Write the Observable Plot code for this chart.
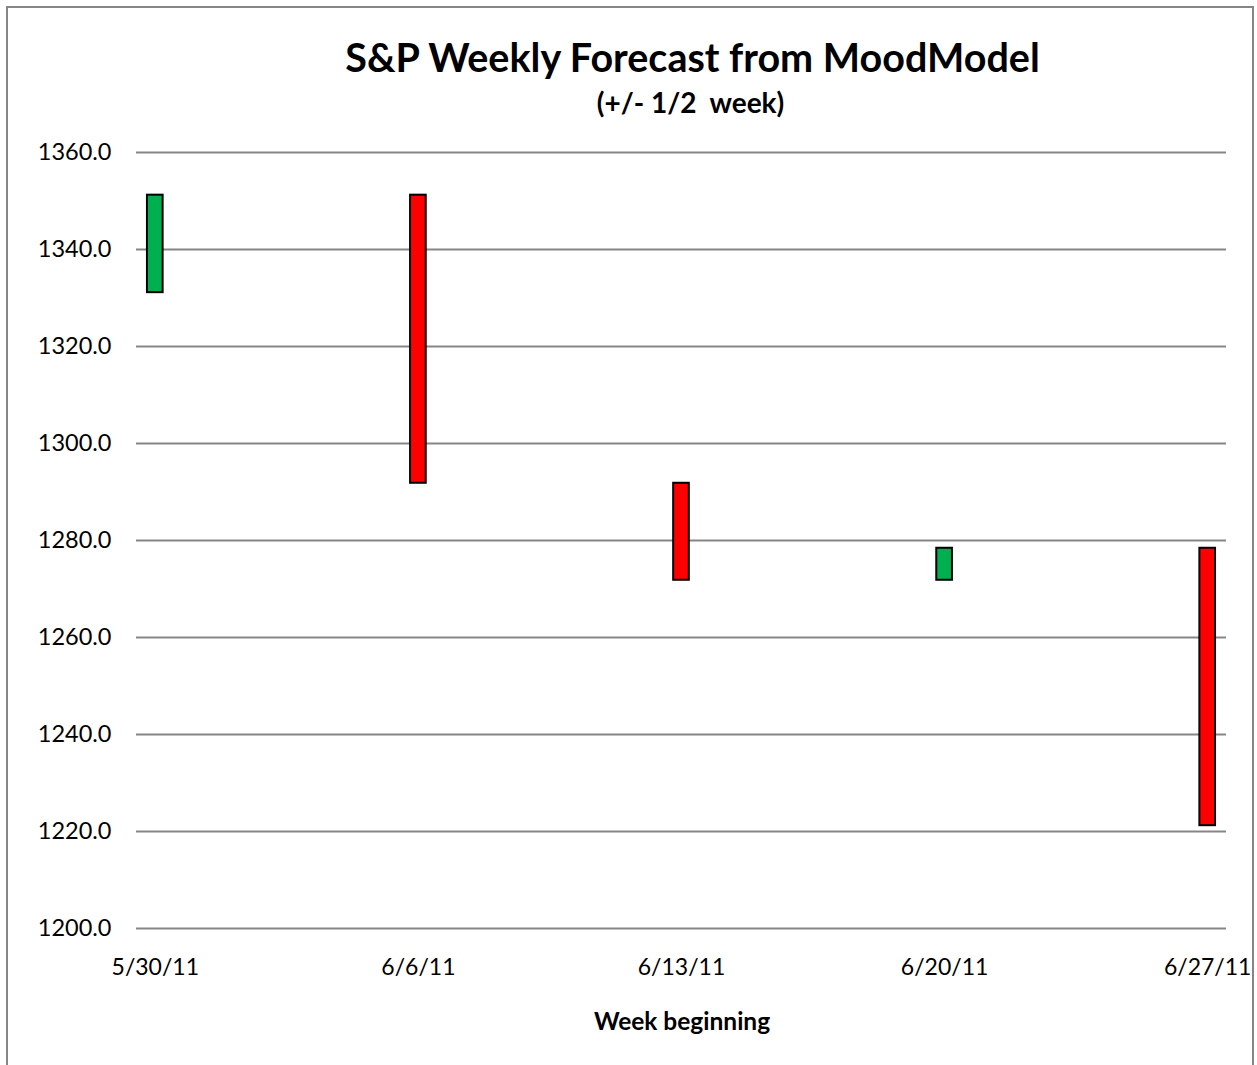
<!DOCTYPE html>
<html>
<head>
<meta charset="utf-8">
<script src="https://cdn.jsdelivr.net/npm/d3@7"></script>
<script src="https://cdn.jsdelivr.net/npm/@observablehq/plot@0.6"></script>
<style>
  html, body { margin: 0; padding: 0; background: #fff; }
  body { width: 1257px; height: 1065px; position: relative; overflow: hidden; font-family: Lato, "Open Sans", sans-serif; }
  #frame { position: absolute; left: 6px; top: 6px; width: 1248px; height: 1100px; border: 2px solid #868686; box-sizing: border-box; }
  #title { position: absolute; left: 0; width: 1385px; top: 33px; text-align: center; font-size: 39.5px; font-weight: bold; color: #000; white-space: nowrap; }
  #subtitle { position: absolute; left: 0; width: 1381px; top: 85px; text-align: center; font-size: 28px; font-weight: bold; color: #000; white-space: pre; }
  #xlabel { position: absolute; left: 0; width: 1364px; top: 1006px; text-align: center; font-size: 24.5px; font-weight: bold; color: #000; }
  #chart { position: absolute; left: 0; top: 0; }
</style>
</head>
<body>
<div id="frame"></div>
<div id="chart"></div>
<div id="title">S&amp;P Weekly Forecast from MoodModel</div>
<div id="subtitle">(+/- 1/2  week)</div>
<div id="xlabel">Week beginning</div>
<script>
const weeks = ["2011-05-30", "2011-06-06", "2011-06-13", "2011-06-20", "2011-06-27"];
const weekLabels = ["5/30/11", "6/6/11", "6/13/11", "6/20/11", "6/27/11"];
const lows  = [1331.1, 1291.8, 1271.8, 1271.8, 1221.2];
const highs = [1351.2, 1351.2, 1291.8, 1278.4, 1278.4];
const direction = ["up", "down", "down", "up", "down"];
const yTicks = [1200, 1220, 1240, 1260, 1280, 1300, 1320, 1340, 1360];

const data = weeks.map((w, i) => ({
  date: new Date(w + "T00:00:00Z"),
  low: lows[i], high: highs[i], dir: direction[i]
}));
const dates = data.map(d => d.date);
const fmtWeek = (d) => weekLabels[dates.findIndex(x => +x === +d)];

const chart = Plot.plot({
  width: 1257,
  height: 1065,
  marginTop: 152,
  marginBottom: 137,
  marginLeft: 136,
  marginRight: 31,
  style: { fontFamily: "Lato, 'Open Sans', sans-serif", fontSize: "23px", color: "#000", background: "transparent" },
  x: {
    type: "utc",
    domain: [d3.utcHour.offset(dates[0], -12), d3.utcHour.offset(dates[4], 12)],
    ticks: dates,
    tickFormat: fmtWeek,
    label: null
  },
  y: { domain: [1200, 1360], ticks: yTicks, label: null },
  color: { domain: ["up", "down"], range: ["#00B050", "#FF0000"] },
  marks: [
    Plot.gridY(yTicks, { stroke: "#868686", strokeOpacity: 1, strokeWidth: 2 }),
    Plot.axisY(yTicks, { tickSize: 0, tickPadding: 25, tickFormat: d3.format(".1f"), label: null, fontSize: 23.5 }),
    Plot.axisX(dates, { tickSize: 0, tickPadding: 30, label: null, fontSize: 23, tickFormat: fmtWeek }),
    Plot.rect(data, {
      x1: d => d3.utcHour.offset(d.date, -5),
      x2: d => d3.utcHour.offset(d.date, 5),
      y1: "low", y2: "high",
      fill: "dir", stroke: "#000", strokeWidth: 2
    })
  ]
});
document.getElementById("chart").appendChild(chart);
</script>
</body>
</html>
